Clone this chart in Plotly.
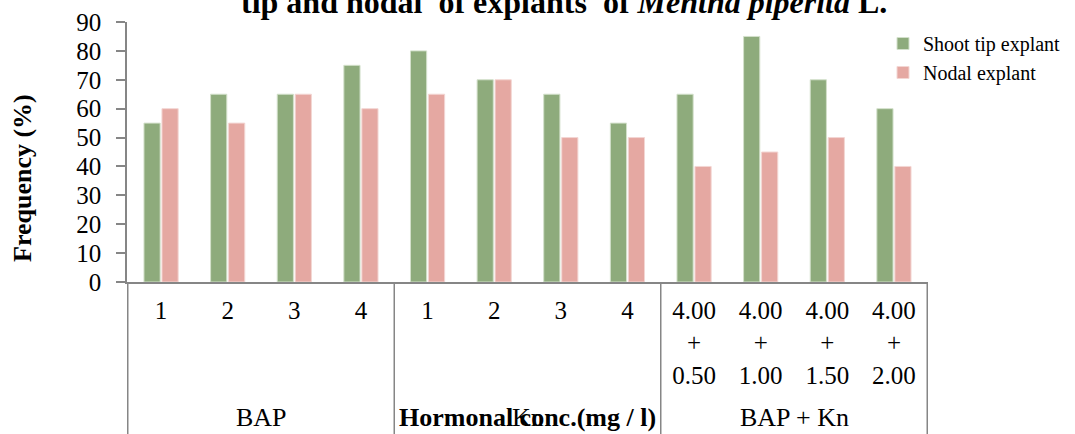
import plotly.graph_objects as go

# ---- data ----
categories = ["BAP 1", "BAP 2", "BAP 3", "BAP 4",
              "Kn 1", "Kn 2", "Kn 3", "Kn 4",
              "BAP+Kn 0.50", "BAP+Kn 1.00", "BAP+Kn 1.50", "BAP+Kn 2.00"]
tick_labels = ["1", "2", "3", "4", "1", "2", "3", "4",
               "4.00<br>+<br>0.50", "4.00<br>+<br>1.00",
               "4.00<br>+<br>1.50", "4.00<br>+<br>2.00"]
group_names = ["BAP", "Kn", "BAP + Kn"]
group_sizes = [4, 4, 4]
shoot_tip = [55, 65, 65, 75, 80, 70, 65, 55, 65, 85, 70, 60]
nodal = [60, 55, 65, 60, 65, 70, 50, 50, 40, 45, 50, 40]

FONT = "Liberation Serif"
AXIS_COLOR = "#868686"
L, R, T, B = 127, 928, 22, 282
PW, PH = R - L, B - T

fig = go.Figure()
fig.add_trace(go.Bar(x=categories, y=shoot_tip, name="Shoot tip explant",
                     marker=dict(color="#8eab7c", line=dict(color="#d3e0cb", width=1))))
fig.add_trace(go.Bar(x=categories, y=nodal, name="Nodal explant",
                     marker=dict(color="#e5a8a2", line=dict(color="#f3d6d3", width=1))))

def py(pix):
    return 1 - (pix - T) / PH

def px(pix):
    return (pix - L) / PW

shapes = []
annotations = []
start = 0
bounds = [-0.5]
for name, size in zip(group_names, group_sizes):
    center = start + (size - 1) / 2
    annotations.append(dict(x=center, xref="x", y=py(417), yref="paper",
                            text=name, showarrow=False, yanchor="middle",
                            font=dict(family=FONT, size=26, color="black")))
    start += size
    bounds.append(start - 0.5)
for b in bounds:
    shapes.append(dict(type="line", xref="x", yref="paper", x0=b, x1=b,
                       y0=0, y1=py(440), line=dict(color=AXIS_COLOR, width=1.5)))

annotations.append(dict(x=0.5, xref="paper", y=py(417), yref="paper",
                        text="<b>Hormonal conc.(mg / l)</b>", showarrow=False,
                        yanchor="middle",
                        font=dict(family=FONT, size=26, color="black")))
annotations.append(dict(x=px(22), xref="paper", y=py(178), yref="paper",
                        text="<b>Frequency (%)</b>", showarrow=False,
                        textangle=-90, xanchor="center", yanchor="middle",
                        font=dict(family=FONT, size=26, color="black")))
annotations.append(dict(x=px(564), xref="paper", y=py(22), yref="paper",
                        text="<b>tip and nodal&nbsp; of explants&nbsp; of <i>Mentha piperita</i> L.</b>",
                        showarrow=False, yanchor="bottom",
                        font=dict(family=FONT, size=32, color="black")))

fig.update_layout(
    width=1075, height=434,
    margin=dict(l=L, r=1075 - R, t=T, b=434 - B, autoexpand=False),
    paper_bgcolor="white", plot_bgcolor="white",
    barmode="group", bargap=0.46, bargroupgap=0.1,
    font=dict(family=FONT, size=24, color="black"),
    shapes=shapes, annotations=annotations,
    legend=dict(x=px(883), xanchor="left", y=py(24),
                yanchor="top", font=dict(family=FONT, size=20, color="black"),
                bgcolor="rgba(0,0,0,0)", tracegroupgap=0),
    xaxis=dict(type="category", tickvals=categories, ticktext=tick_labels,
               showline=True, linecolor=AXIS_COLOR, linewidth=1.5, ticks="",
               showgrid=False, zeroline=False, automargin=False,
               ticklabelstandoff=5,
               tickfont=dict(family=FONT, size=25, color="black")),
    yaxis=dict(range=[0, 90], dtick=10, showline=True, linecolor=AXIS_COLOR,
               linewidth=1.5, ticks="outside", ticklen=9, tickcolor=AXIS_COLOR,
               tickwidth=1.5, showgrid=False, zeroline=False, ticklabelstandoff=10,
               automargin=False,
               tickfont=dict(family=FONT, size=25, color="black")),
)

fig.write_html("out.html", config={"displayModeBar": False},
               post_script="document.body.style.margin='0';document.body.style.overflow='hidden';")
